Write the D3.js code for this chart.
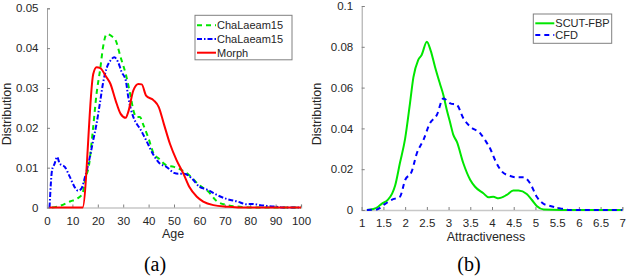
<!DOCTYPE html>
<html>
<head>
<meta charset="utf-8">
<script src="https://cdn.jsdelivr.net/npm/d3@7"></script>
<style>
  body { margin: 0; background: #fff; }
  svg text { font-family: "Liberation Sans", Arial, sans-serif; fill: #262626; }
</style>
</head>
<body>
<div id="svg-container"></div>
<script>
// Panel (a): age distribution
let ageX = [2, 5, 9, 12, 14, 15, 16.5, 18, 19.5, 21, 22, 23.5, 25.5, 27, 29, 31, 33, 34, 35.3, 36.6, 38, 40, 42, 44, 47, 50, 53, 56, 60, 63.5, 67, 71, 76, 80, 90, 100];
let chaA = [0, 0.0004, 0.0015, 0.0023, 0.0035, 0.007, 0.0105, 0.019, 0.0285, 0.035, 0.040, 0.0435, 0.043, 0.042, 0.0377, 0.0335, 0.0277, 0.0244, 0.0227, 0.0227, 0.0206, 0.0173, 0.0135, 0.0123, 0.0106, 0.0102, 0.0094, 0.0081, 0.0056, 0.004, 0.0015, 0.0006, 0.0002, 0, 0, 0];

let ageX2 = [1, 2, 3, 4, 5, 7, 9, 11, 12.3, 13.6, 15, 16.3, 18.2, 19.5, 21, 22, 23.5, 25, 26.5, 28, 29.4, 31, 32, 34, 35.3, 36.6, 39, 42, 44.5, 47, 50, 51.7, 54, 57, 60, 63, 67, 71, 75, 78.6, 81, 83, 86.5, 90, 93, 100];
let chaB = [0, 0.0094, 0.011, 0.0127, 0.011, 0.0102, 0.0077, 0.005, 0.0042, 0.0048, 0.0077, 0.011, 0.0169, 0.021, 0.0269, 0.031, 0.035, 0.0369, 0.0377, 0.0365, 0.034, 0.0319, 0.0277, 0.0227, 0.021, 0.0198, 0.0169, 0.0131, 0.011, 0.0102, 0.0087, 0.0085, 0.0085, 0.0073, 0.0052, 0.0045, 0.0031, 0.0021, 0.0015, 0.0008, 0.0009, 0.0007, 0.0004, 0.0002, 0, 0];

let ageX3 = [1, 14, 18.2, 19.5, 21, 23, 25, 27, 29, 31, 32, 34, 36, 37.3, 39, 42, 44, 46, 48.4, 51, 53.7, 56, 59, 61.5, 65.5, 71, 76, 100];
let morph = [0, 0, 0.0335, 0.0352, 0.035, 0.0331, 0.031, 0.0269, 0.0235, 0.0225, 0.024, 0.0294, 0.031, 0.0309, 0.0281, 0.0269, 0.0252, 0.021, 0.016, 0.0119, 0.0085, 0.0052, 0.0027, 0.0015, 0.0006, 0.0002, 0, 0];

let ageTicks = [0, 10, 20, 30, 40, 50, 60, 70, 80, 90, 100];
let distTicksA = [0, 0.01, 0.02, 0.03, 0.04, 0.05];
let legendA = ["ChaLaeam15", "ChaLaeam15", "Morph"];

// Panel (b): attractiveness distribution
let attrX = [1.12, 1.27, 1.38, 1.46, 1.6, 1.7, 1.77, 1.88, 2.0, 2.11, 2.19, 2.3, 2.38, 2.5, 2.59, 2.69, 2.8, 2.88, 2.96, 3.04, 3.11, 3.19, 3.34, 3.5, 3.61, 3.8, 3.92, 4.03, 4.15, 4.34, 4.49, 4.61, 4.8, 4.92, 5.03, 5.19, 6, 7];
let scut = [0, 0.0005, 0.0016, 0.003, 0.005, 0.008, 0.012, 0.023, 0.035, 0.052, 0.065, 0.0735, 0.076, 0.0825, 0.078, 0.070, 0.062, 0.0564, 0.049, 0.0425, 0.0368, 0.0335, 0.0229, 0.0147, 0.0114, 0.0082, 0.0062, 0.0065, 0.0057, 0.0074, 0.0095, 0.0095, 0.0078, 0.0049, 0.002, 0.0003, 0, 0];

let attrX2 = [1.12, 1.35, 1.54, 1.69, 1.88, 2.0, 2.15, 2.27, 2.42, 2.57, 2.73, 2.88, 3.04, 3.19, 3.34, 3.5, 3.73, 3.84, 3.96, 4.07, 4.23, 4.42, 4.57, 4.73, 4.88, 5.03, 5.19, 5.34, 5.57, 5.8, 7];
let cfd = [0, 0.0003, 0.003, 0.005, 0.0065, 0.0147, 0.0188, 0.0278, 0.0343, 0.0425, 0.0466, 0.0547, 0.0523, 0.0515, 0.045, 0.0408, 0.0376, 0.0343, 0.030, 0.0245, 0.0188, 0.0167, 0.016, 0.016, 0.013, 0.0065, 0.003, 0.002, 0.0008, 0, 0];

let attrTicks = [1, 1.5, 2, 2.5, 3, 3.5, 4, 4.5, 5, 5.5, 6, 6.5, 7];
let distTicksB = [0, 0.02, 0.04, 0.06, 0.08, 0.1];
let legendB = ["SCUT-FBP", "CFD"];

let svg = d3.select("#svg-container").append("svg")
    .attr("width", 628)
    .attr("height", 276);

function panel(opt) {
    let x = d3.scaleLinear().domain(opt.xDomain).range(opt.xRange);
    let y = d3.scaleLinear().domain(opt.yDomain).range(opt.yRange);
    let g = svg.append("g");

    // axes
    let xAxis = g.append("g")
        .attr("transform", "translate(0," + opt.yRange[0] + ")")
        .call(d3.axisBottom(x).tickValues(opt.xTicks).tickSize(-3).tickPadding(9).tickFormat(d3.format("")));
    let yAxis = g.append("g")
        .attr("transform", "translate(" + opt.xRange[0] + ",0)")
        .call(d3.axisLeft(y).tickValues(opt.yTicks).tickSize(-3).tickPadding(8.5).tickFormat(d3.format("")));
    [xAxis, yAxis].forEach(a => {
        a.select(".domain").attr("stroke", "#a0a0a0");
        a.selectAll(".tick line").attr("stroke", "#808080");
        a.selectAll(".tick text").attr("font-size", 11.5).attr("fill", "#262626");
    });
    xAxis.select(".domain").attr("stroke", "#c8c8c8").attr("stroke-width", 1.5);

    // lines
    let line = d3.line().curve(d3.curveMonotoneX).x(d => x(d[0])).y(d => y(d[1]));
    opt.series.forEach(s => {
        g.append("path")
            .datum(d3.zip(s.xs, s.ys))
            .attr("fill", "none")
            .attr("stroke", s.color)
            .attr("stroke-width", 2)
            .attr("stroke-dasharray", s.dash)
            .attr("d", line);
    });

    // axis labels
    g.append("text")
        .attr("x", opt.xLabelX)
        .attr("y", opt.yRange[0] + 30.5)
        .attr("text-anchor", "middle")
        .attr("font-size", 12.5)
        .text(opt.xLabel);
    g.append("text")
        .attr("transform", "translate(" + opt.yLabelX + ",114) rotate(-90)")
        .attr("text-anchor", "middle")
        .attr("font-size", 12.5)
        .text("Distribution");

    // caption
    g.append("text")
        .attr("x", opt.captionX)
        .attr("y", 271)
        .attr("text-anchor", "middle")
        .attr("font-size", 20)
        .style("font-family", "'Liberation Serif', 'Times New Roman', serif")
        .style("fill", "#000")
        .text(opt.caption);

    // legend
    let L = opt.legend;
    g.append("rect")
        .attr("x", L.x).attr("y", L.y)
        .attr("width", L.w).attr("height", L.h)
        .attr("fill", "#fff")
        .attr("stroke", "#808080")
        .attr("stroke-width", 1);
    opt.series.forEach((s, i) => {
        let cy = L.y + L.first + i * L.step;
        g.append("line")
            .attr("x1", L.x + 2).attr("x2", L.x + 21)
            .attr("y1", cy).attr("y2", cy)
            .attr("stroke", s.color)
            .attr("stroke-width", 2)
            .attr("stroke-dasharray", s.dash);
        g.append("text")
            .attr("x", L.x + 22)
            .attr("y", cy)
            .attr("dy", "0.35em")
            .attr("font-size", 11)
            .text(opt.legendNames[i]);
    });
}

panel({
    xDomain: [0, 100], xRange: [47, 301],
    yDomain: [0, 0.05], yRange: [207.5, 8.3],
    xTicks: ageTicks, yTicks: distTicksA,
    xLabel: "Age", xLabelX: 173, yLabelX: 10.5, caption: "(a)", captionX: 155,
    legendNames: legendA,
    legend: {x: 195, y: 15.3, w: 97, h: 44.5, first: 10, step: 13.7},
    series: [
        {xs: ageX, ys: chaA, color: "#00e600", dash: "5,4"},
        {xs: ageX2, ys: chaB, color: "#0000ff", dash: "5,2,1.5,2"},
        {xs: ageX3, ys: morph, color: "#ff0000", dash: null}
    ]
});

panel({
    xDomain: [1, 7], xRange: [361.7, 622.3],
    yDomain: [0, 0.1], yRange: [210, 6],
    xTicks: attrTicks, yTicks: distTicksB,
    xLabel: "Attractiveness", xLabelX: 486, yLabelX: 321, caption: "(b)", captionX: 469,
    legendNames: legendB,
    legend: {x: 533.3, y: 14, w: 78.4, h: 29.3, first: 9.3, step: 11.7},
    series: [
        {xs: attrX, ys: scut, color: "#00e600", dash: null},
        {xs: attrX2, ys: cfd, color: "#0000ff", dash: "5,4"}
    ]
});
</script>
</body>
</html>
